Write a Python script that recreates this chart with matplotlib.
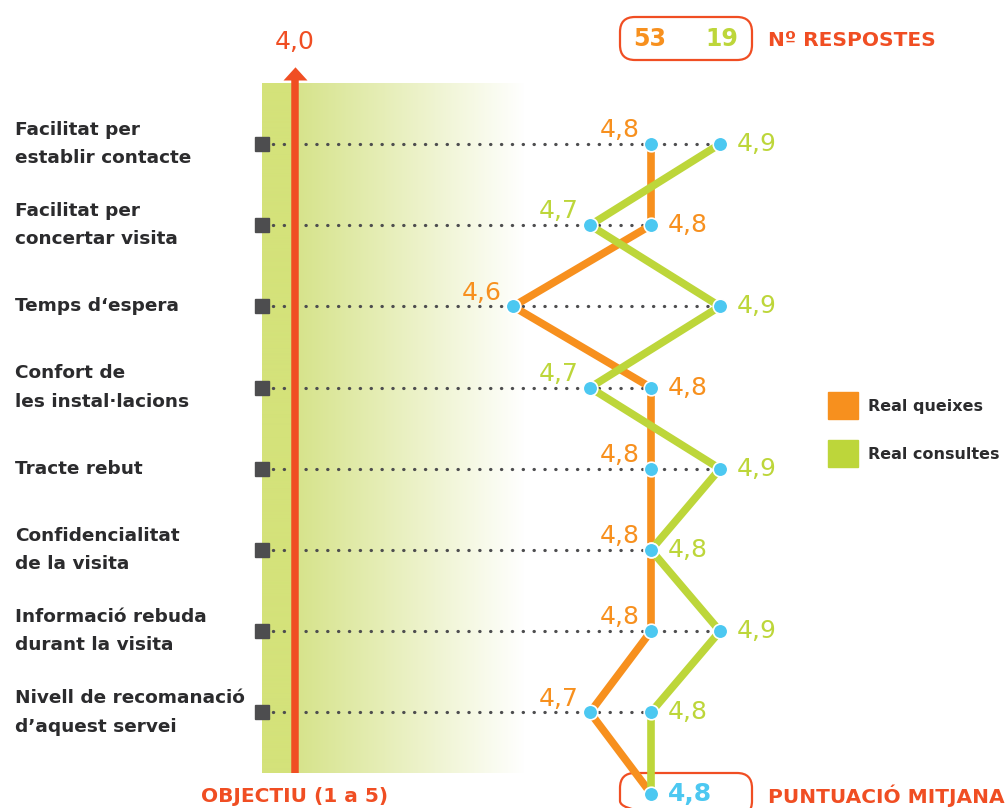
#!/usr/bin/env python3
import numpy as np
import matplotlib
matplotlib.use("Agg")
from matplotlib import pyplot as plt
from matplotlib import transforms as mtransforms
from matplotlib.patches import FancyBboxPatch, Patch

# --- data -------------------------------------------------------------
categories = [
    "Facilitat per\nestablir contacte",
    "Facilitat per\nconcertar visita",
    "Temps d\u2018espera",
    "Confort de\nles instal\u00b7lacions",
    "Tracte rebut",
    "Confidencialitat\nde la visita",
    "Informaci\u00f3 rebuda\ndurant la visita",
    "Nivell de recomanaci\u00f3\nd\u2019aquest servei",
]
queixes = [4.8, 4.8, 4.6, 4.8, 4.8, 4.8, 4.8, 4.7]
consultes = [4.9, 4.7, 4.9, 4.7, 4.9, 4.8, 4.9, 4.8]
mitjana = 4.8
objectiu = 4.0
respostes = [53, 19]
series_names = ["Real queixes", "Real consultes"]

# --- style ------------------------------------------------------------
ORANGE = "#F7901E"
GREEN = "#BDD63A"
RED = "#F04E23"
BLUE = "#4CC8F1"
GREY = "#4D4D4F"
TEXT = "#2B2B2D"
FONT = "DejaVu Sans"

W, H = 1006, 808

# hand drawn infographic: score axis is stretched around the real values
SCORE_ANCHORS = [4.0, 4.6, 4.7, 4.8, 4.9]
PX_ANCHORS = [295, 513, 590, 651, 720]


def piecewise(v, xs, ys):
    v = np.asarray(v, dtype=float)
    out = np.interp(v, xs, ys)
    lo = ys[0] + (v - xs[0]) * (ys[1] - ys[0]) / (xs[1] - xs[0])
    hi = ys[-1] + (v - xs[-1]) * (ys[-1] - ys[-2]) / (xs[-1] - xs[-2])
    out = np.where(v < xs[0], lo, out)
    out = np.where(v > xs[-1], hi, out)
    return out


def forward(v):
    return piecewise(v, SCORE_ANCHORS, PX_ANCHORS)


def inverse(p):
    return piecewise(p, PX_ANCHORS, SCORE_ANCHORS)


def fmt(v):
    return f"{v:.1f}".replace(".", ",")


fig = plt.figure(figsize=(W / 100, H / 100), dpi=100)
ax = fig.add_axes([0, 0, 1, 1])
ax.set_xscale("function", functions=(forward, inverse))
ax.axis("off")

# pixel coordinates (y down) for decorations
px = mtransforms.Affine2D().scale(1 / W, -1 / H).translate(0, 1) + fig.transFigure
data_x_px_y = mtransforms.blended_transform_factory(ax.transData, px)
px_x_data_y = mtransforms.blended_transform_factory(px, ax.transData)

rows = np.arange(len(categories))
avg_row = len(categories)

# background band with gradient
band = np.ones((2, 268, 3))
solid = np.array(matplotlib.colors.to_rgb("#D4E27A"))
start = np.array(matplotlib.colors.to_rgb("#D6E38A"))
for i in range(268):
    if i < 33:
        band[:, i] = solid
    else:
        t = min(1.0, (i - 33) / (262 - 33))
        band[:, i] = start * (1 - t) + np.ones(3) * t
ax.imshow(band, extent=(262, 530, 773, 83), transform=px, aspect="auto",
          interpolation="bilinear", zorder=0)

# objective line with arrow head
ax.plot([objectiu, objectiu], [773, 79], color=RED, lw=5.4,
        solid_capstyle="butt", transform=data_x_px_y, zorder=5)
ax.plot([objectiu], [80], marker=[(-1, 0), (1, 0), (0, 1.1)], ms=19,
        color=RED, mew=0, transform=data_x_px_y, zorder=5)
ax.text(objectiu, 42, fmt(objectiu), color=RED, fontsize=18, family=FONT,
        ha="center", va="center", transform=data_x_px_y)
ax.text(objectiu, 796, "OBJECTIU (1 a 5)", color=RED, fontsize=14.5,
        family=FONT, weight="bold", ha="center", va="center",
        transform=data_x_px_y)

# dotted guides and square markers
x_start = float(inverse(262))
for r, q, c in zip(rows, queixes, consultes):
    ax.plot([x_start, max(q, c)], [r, r], color=GREY, lw=2.3,
            dashes=(0.1, 3.3), dash_capstyle="round", zorder=2)
ax.plot([x_start] * len(rows), rows, "s", ms=10, color=GREY, zorder=3)

# category labels
for r, lab in zip(rows, categories):
    ax.text(15, r, lab, transform=px_x_data_y, ha="left", va="center",
            fontsize=13.3, family=FONT, weight="bold", color=TEXT,
            linespacing=1.75)

# series lines
all_rows = np.append(rows, avg_row)
ax.plot(queixes + [mitjana], all_rows, color=ORANGE, lw=5.5, zorder=6,
        solid_capstyle="butt")
ax.plot(consultes + [mitjana], all_rows, color=GREEN, lw=5.5, zorder=7,
        solid_capstyle="butt")
ax.plot(queixes + consultes + [mitjana],
        list(rows) + list(rows) + [avg_row], "o", ms=10.5, color=BLUE,
        mec="white", mew=1.2, zorder=8)

# value labels: lower value on the left, higher on the right
for r, q, c in zip(rows, queixes, consultes):
    if q <= c:
        left, right = (q, ORANGE), (c, GREEN)
    else:
        left, right = (c, GREEN), (q, ORANGE)
    ax.annotate(fmt(left[0]), (left[0], r),
                xytext=(-8, 10), textcoords="offset points", ha="right",
                va="center", color=left[1], fontsize=18, family=FONT,
                zorder=9)
    ax.annotate(fmt(right[0]), (right[0], r),
                xytext=(12, 0), textcoords="offset points", ha="left",
                va="center", color=right[1], fontsize=18, family=FONT,
                zorder=9)
ax.annotate(fmt(mitjana), (mitjana, avg_row),
            xytext=(12, 0), textcoords="offset points", ha="left",
            va="center", color=BLUE, fontsize=18, family=FONT,
            weight="bold", zorder=9)

# header / footer boxes
for y0 in (17, 773):
    ax.add_patch(FancyBboxPatch((620, y0), 132, 43,
                                boxstyle="round,pad=0,rounding_size=15",
                                transform=px, fill=False, ec=RED, lw=1.6,
                                clip_on=False))
ax.text(650, 39, str(respostes[0]), transform=px, color=ORANGE,
        fontsize=17, family=FONT, weight="bold", ha="center", va="center")
ax.text(722, 39, str(respostes[1]), transform=px, color=GREEN,
        fontsize=17, family=FONT, weight="bold", ha="center", va="center")
ax.text(768, 40, "N\u00ba RESPOSTES", transform=px, color=RED,
        fontsize=14.5, family=FONT, weight="bold", ha="left", va="center")
ax.text(768, 796, "PUNTUACI\u00d3 MITJANA", transform=px, color=RED,
        fontsize=14.5, family=FONT, weight="bold", ha="left", va="center")

# legend
handles = [Patch(color=ORANGE, label=series_names[0]),
           Patch(color=GREEN, label=series_names[1])]
leg = ax.legend(handles=handles, loc="upper left",
                bbox_to_anchor=(828, 392), bbox_transform=px,
                frameon=False, borderpad=0, borderaxespad=0,
                handlelength=1.9, handleheight=2.25, handletextpad=0.6,
                labelspacing=1.3, prop={"family": FONT, "weight": "bold",
                                        "size": 11.5})
for t in leg.get_texts():
    t.set_color(TEXT)

ax.set_xlim(float(inverse(0)), float(inverse(W)))
ax.set_ylim(avg_row + (H - 793.6) / 81.2, -144 / 81.2)

fig.savefig("out.png", dpi=100)
